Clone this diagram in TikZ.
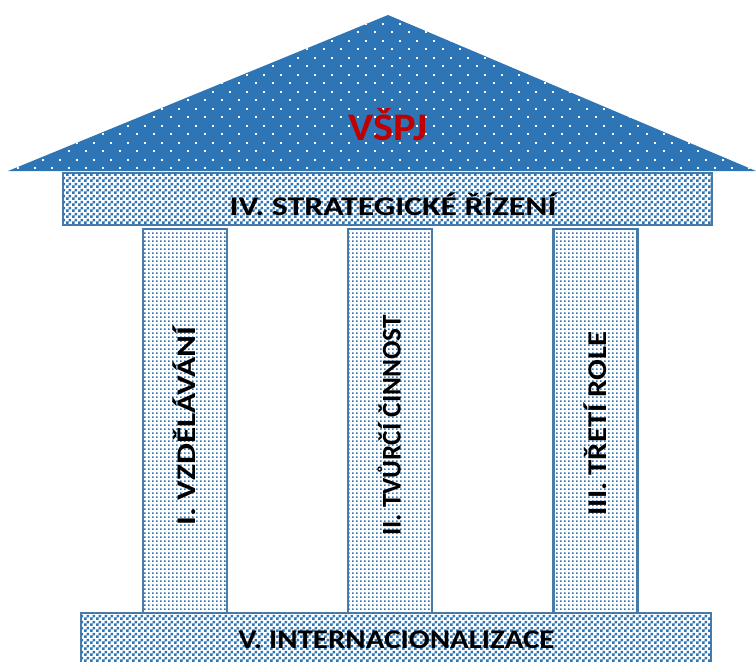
\documentclass[tikz,border=0pt]{standalone}
\usepackage{fontspec}
\usepackage{graphicx}
\setmainfont{Carlito}
\usetikzlibrary{patterns.meta}

\definecolor{roofblue}{HTML}{2E75B6}
\definecolor{edgeblue}{HTML}{4A7CAA}
\definecolor{textred}{HTML}{C00000}

% white dots on the roof, staggered rows
\tikzdeclarepattern{
  name=roofdots,
  type=uncolored,
  bottom left={(0pt,0pt)},
  top right={(17pt,17pt)},
  tile size={(17pt,17pt)},
  code={
    \pgfpathrectangle{\pgfpoint{0pt}{0pt}}{\pgfpoint{2pt}{2pt}}
    \pgfpathrectangle{\pgfpoint{8.5pt}{8.5pt}}{\pgfpoint{2pt}{2pt}}
    \pgfusepath{fill}
  }
}
% small checker for the beam and the base
\tikzdeclarepattern{
  name=smallchecker,
  type=uncolored,
  bottom left={(0pt,0pt)},
  top right={(6pt,6pt)},
  tile size={(6pt,6pt)},
  code={
    \pgfpathrectangle{\pgfpoint{0pt}{0pt}}{\pgfpoint{3pt}{3pt}}
    \pgfpathrectangle{\pgfpoint{3pt}{3pt}}{\pgfpoint{3pt}{3pt}}
    \pgfusepath{fill}
  }
}
% fine dots for the columns
\tikzdeclarepattern{
  name=finedots,
  type=uncolored,
  bottom left={(0pt,0pt)},
  top right={(4pt,4pt)},
  tile size={(4pt,4pt)},
  code={
    \pgfpathrectangle{\pgfpoint{0pt}{0pt}}{\pgfpoint{2pt}{2pt}}
    \pgfusepath{fill}
  }
}

% bold lettering, widened by a given factor
\newcommand{\widebold}[2]{\scalebox{#1}[1]{#2}}

\tikzset{
  slab/.style={draw=edgeblue, line width=2.5pt, fill=white,
    postaction={pattern=smallchecker, pattern color=roofblue},
    inner sep=0pt, outer sep=0pt},
  pillar/.style={draw=edgeblue, line width=2.5pt, fill=white,
    postaction={pattern=finedots, pattern color=roofblue},
    minimum width=84pt, minimum height=384pt, inner sep=0pt, outer sep=0pt},
  caption/.style={font=\bfseries\fontsize{27}{30}\selectfont, text=black,
    anchor=base, inner sep=0pt},
  pillartext/.style={caption, rotate=90},
}

\begin{document}
\begin{tikzpicture}[x=1pt, y=-1pt]
  \useasboundingbox (0,0) rectangle (756,662);
  \clip (0,0) rectangle (756,662);

  % roof
  \coordinate (eaveL) at (8,171);
  \coordinate (eaveR) at (756,171);
  \coordinate (apex) at (388,15);
  \fill[roofblue] (eaveL) -- (apex) -- (eaveR) -- cycle;
  \fill[pattern=roofdots, pattern color=white] (eaveL) -- (apex) -- (eaveR) -- cycle;
  \node[anchor=base, inner sep=0pt, text=textred,
        font=\bfseries\fontsize{39}{44}\selectfont] (title) at (388,140)
        {\scalebox{1.09}[1]{VŠPJ}};

  % entablature
  \node[slab, minimum width=649pt, minimum height=52pt] (beam) at (387.5,199) {};
  \node[caption] (beamtext) at (393,215) {\widebold{1.25}{IV. STRATEGICKÉ ŘÍZENÍ}};

  % three pillars
  \node[pillar] (col1) at (185,421) {};
  \node[pillar] (col2) at (390,421) {};
  \node[pillar] (col3) at (595.5,421) {};
  \node[pillartext] (col1text) at (195.5,426) {\widebold{1.23}{I. VZDĚLÁVÁNÍ}};
  \node[pillartext] (col2text) at (400.5,425.5) {\widebold{1.01}{II. TVŮRČÍ ČINNOST}};
  \node[pillartext] (col3text) at (606,423.5) {\widebold{1.14}{III. TŘETÍ ROLE}};

  % foundation
  \node[slab, minimum width=630pt, minimum height=64pt] (base) at (396,645) {};
  \node[caption] (basetext) at (396.5,648) {\widebold{1.145}{V. INTERNACIONALIZACE}};
\end{tikzpicture}
\end{document}
